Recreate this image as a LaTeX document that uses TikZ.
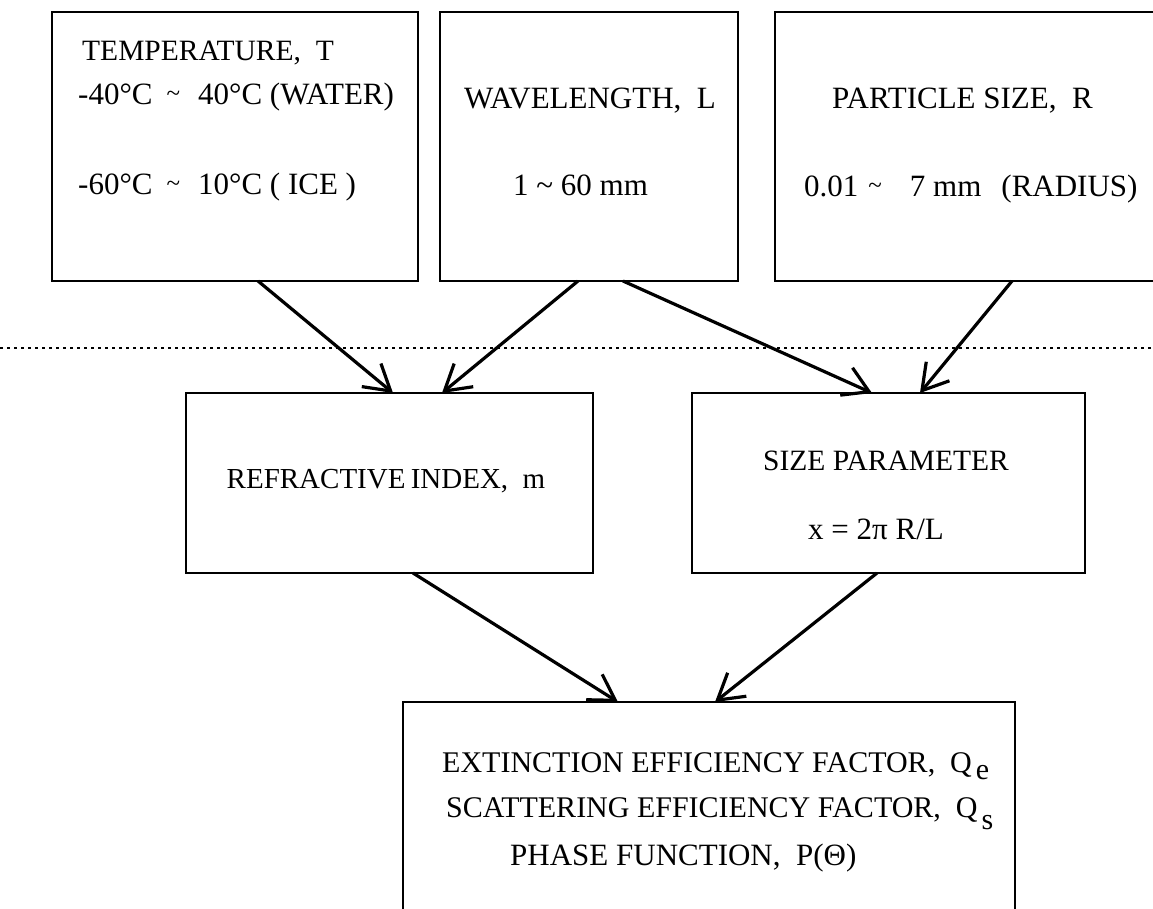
\documentclass[tikz,border=0pt]{standalone}
\usepackage{fontspec}
\setmainfont{Liberation Serif}
\usetikzlibrary{arrows.meta,calc}
\newcommand{\tld}{\char"7E\relax}
\newcommand{\stld}{\raisebox{3pt}{\fontsize{25}{25}\selectfont\char"7E}}
\newcommand{\fs}[1]{\fontsize{#1}{#1}\selectfont}
\begin{document}
\begin{tikzpicture}[x=1pt,y=-1pt,
  box/.style={draw,line width=2.8pt,inner sep=0pt,outer sep=0pt,anchor=north west},
  lbl/.style={inner sep=0pt,anchor=base west,font=\fs{31}},
  clbl/.style={lbl,anchor=base},
  link/.style={line width=3.2pt,-{Straight Barb[length=25pt,width=30pt,line width=3.2pt]}},
  sepline/.style={line width=2pt,dash pattern=on 2.5pt off 4.5pt}
]
\useasboundingbox (0,0) rectangle (1153,908);

% input boxes
\node[box,minimum width=366pt,minimum height=269pt] (T) at (52,12) {};
\node[box,minimum width=298pt,minimum height=269pt] (L) at (440,12) {};
\node[box,minimum width=400pt,minimum height=269pt] (R) at (775,12) {};
% derived quantities
\node[box,minimum width=407pt,minimum height=180pt] (N) at (186,393) {};
\node[box,minimum width=393pt,minimum height=180pt] (S) at (692,393) {};
% results
\node[box,minimum width=612pt,minimum height=240pt] (E) at (403,702) {};

% separator between inputs and derived quantities
\coordinate (sepL) at (0,348);
\coordinate (sepR) at (1153,348);
\draw[sepline] (sepL) -- (sepR);

% texts
\node[lbl,font=\fs{29.5}] (t1) at (82,60) {TEMPERATURE,\ \ T};
\node[lbl] (t2) at (78,104) {-40°C\hspace{14pt}\stld\hspace{18pt}40°C (WATER)};
\node[lbl] (t3) at (78,194) {-60°C\hspace{14pt}\stld\hspace{18pt}10°C ( ICE )};

\node[clbl] (l1) at (590,108) {WAVELENGTH,\ \ L};
\node[lbl] (l2) at (513,195) {1 \tld{} 60 mm};

\node[lbl] (r1) at (832,108) {PARTICLE SIZE,\ \ R};
\node[lbl] (r2) at (804,196) {0.01\hspace{10pt}\stld\hspace{28pt}7 mm\hspace{20pt}(RADIUS)};

\node[clbl,font=\fs{29}] (n1) at (386,488) {REFRACTIVE\hspace{-2pt} INDEX,\ \ m};

\node[clbl,font=\fs{29.5}] (s1) at (886,470) {SIZE PARAMETER};
\node[clbl] (s2) at (876,539) {x = 2π R/L};

\node[lbl,font=\fs{30}] (e1) at (442,772) {EXTINCTION EFFICIENCY FACTOR,\ \ Q\hspace{4pt}\raisebox{-7pt}{e}};
\node[lbl,font=\fs{30}] (e2) at (446,817) {SCATTERING EFFICIENCY FACTOR,\ \ Q\hspace{4pt}\raisebox{-12pt}{s}};
\node[lbl] (e3) at (510,865) {PHASE FUNCTION,\ \ P(Θ)};

% connectors
\draw[link] ([xshift=206pt]T.south west) -- ([xshift=207pt]N.north west);
\draw[link] ([xshift=138pt]L.south west) -- ([xshift=256pt]N.north west);
\draw[link] ([xshift=183pt]L.south west) -- ([xshift=180pt]S.north west);
\draw[link] ([xshift=237pt]R.south west) -- ([xshift=228pt]S.north west);
\draw[link] ([xshift=227pt]N.south west) -- ([xshift=215pt]E.north west);
\draw[link] ([xshift=185pt]S.south west) -- ([xshift=312pt]E.north west);
\end{tikzpicture}
\end{document}
